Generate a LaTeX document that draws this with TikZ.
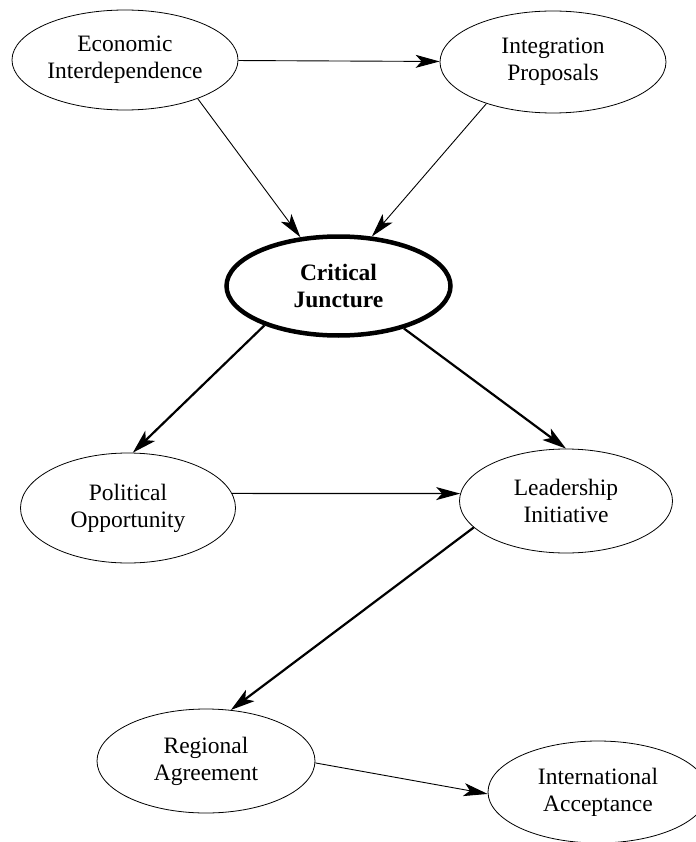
\documentclass[tikz,border=0pt]{standalone}
\usepackage{fontspec}
\setmainfont{Liberation Serif}
\usetikzlibrary{shapes}
\usetikzlibrary{arrows.meta}

\begin{document}
\begin{tikzpicture}[
    x=1pt,
    y=-1pt,
    oval/.style={
        draw,
        ellipse,
        line width=0.8pt,
        inner sep=0pt,
        minimum width=216pt,
        minimum height=104pt,
        align=center,
        font=\fontsize{23.5}{27}\selectfont
    },
    keyoval/.style={
        oval,
        line width=4.5pt,
        font=\fontsize{23.5}{27}\selectfont\bfseries
    },
    thinarrow/.style={
        -{Stealth[length=24pt,width=13pt,inset=6pt]},
        line width=0.9pt
    },
    thickarrow/.style={
        -{Stealth[length=24pt,width=14pt,inset=6pt]},
        line width=2.2pt
    }
]

    \useasboundingbox (0,0) rectangle (695,842);

    \node[oval,minimum width=226pt,minimum height=100pt] (econ)
    at (125,60)
    {
        Economic\\Interdependence
    };

    \node[oval,minimum width=226pt,minimum height=102pt] (integ)
    at (553,62)
    {
        Integration\\Proposals
    };

    \node[keyoval,minimum width=224pt,minimum height=99pt] (cj)
    at (338.5,286)
    {
        Critical\\Juncture
    };

    \node[oval,minimum width=215pt,minimum height=110pt] (pol)
    at (128,508)
    {
        Political\\Opportunity
    };

    \node[oval,minimum width=213pt,minimum height=104pt] (lead)
    at (566,501)
    {
        Leadership\\Initiative
    };

    \node[oval,minimum width=218pt,minimum height=104pt] (reg)
    at (206,761)
    {
        Regional\\Agreement
    };

    \node[oval,minimum width=220pt,minimum height=102pt] (intl)
    at (598,792)
    {
        International\\Acceptance
    };


    \draw[thinarrow]
    (econ) -- (integ);

    \draw[thinarrow]
    (econ.-28) -- (cj.128);

    \draw[thinarrow]
    (integ.212) -- (cj.56);

    \draw[thickarrow]
    (cj.208) -- (pol.85);

    \draw[thickarrow]
    (cj.-33) -- (lead.90);

    \draw[thinarrow,line width=1.2pt]
    (pol.8) -- (lead.176);

    \draw[thickarrow]
    (lead.196) -- (reg.64);

    \draw[thinarrow]
    (reg.-1) -- (intl.181);

\end{tikzpicture}
\end{document}
